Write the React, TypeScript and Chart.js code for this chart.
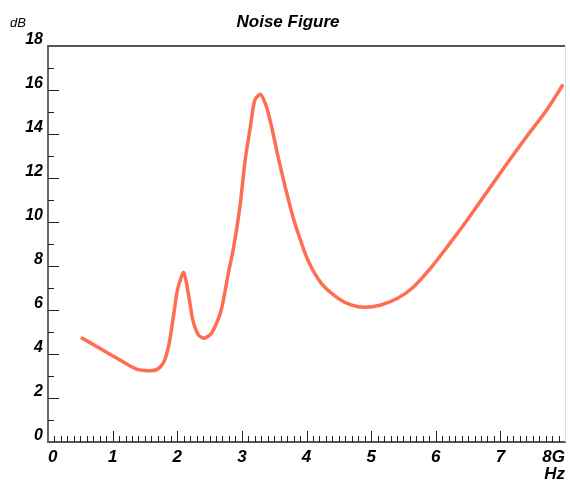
import React, { useEffect, useRef } from "react";
import { Chart, registerables } from "chart.js";

Chart.register(...registerables);

const chartTitle = "Noise Figure";
const yUnit = "dB";
const xUnit = "Hz";
const xTickLabels = ["0", "1", "2", "3", "4", "5", "6", "7", "8G"];

const frequency = [
  0.51, 0.8, 1.1, 1.36, 1.56, 1.69, 1.79, 1.87, 1.93, 1.97, 2.01, 2.1, 2.18,
  2.24, 2.33, 2.42, 2.53, 2.68, 2.79, 2.87, 2.97, 3.05, 3.13, 3.2, 3.29, 3.38,
  3.46, 3.56, 3.67, 3.79, 3.87, 4.02, 4.23, 4.49, 4.69, 4.9, 5.15, 5.41, 5.66,
  5.92, 6.18, 6.49, 6.79, 7.1, 7.41, 7.72, 7.97,
];
const noiseFigure = [
  4.75, 4.26, 3.75, 3.32, 3.24, 3.3, 3.62, 4.4, 5.5, 6.3, 7.0, 7.7, 6.6, 5.55,
  4.86, 4.72, 4.94, 6.0, 7.67, 8.8, 10.7, 12.8, 14.3, 15.55, 15.8, 15.24,
  14.33, 12.97, 11.6, 10.24, 9.49, 8.27, 7.21, 6.53, 6.23, 6.12, 6.23, 6.53,
  7.06, 7.9, 8.88, 10.1, 11.35, 12.65, 13.9, 15.1, 16.25,
];

const FONT = '"Liberation Sans", Arial, sans-serif';

const framePlugin = {
  id: "frame",
  beforeDatasetsDraw(chart: any) {
    const { ctx, chartArea } = chart;
    const xs = chart.scales.x;
    const ys = chart.scales.y;
    ctx.save();
    ctx.strokeStyle = "#555";
    ctx.lineWidth = 2;
    ctx.beginPath();
    ctx.moveTo(chartArea.left, chartArea.top);
    ctx.lineTo(chartArea.right, chartArea.top);
    ctx.stroke();
    ctx.strokeStyle = "#ddd";
    ctx.lineWidth = 1;
    ctx.beginPath();
    ctx.moveTo(chartArea.right + 0.5, chartArea.top);
    ctx.lineTo(chartArea.right + 0.5, chartArea.bottom);
    ctx.stroke();
    ctx.strokeStyle = "#222";
    ctx.lineWidth = 1;
    ctx.beginPath();
    for (let v = 1; v <= 17; v++) {
      const py = Math.round(ys.getPixelForValue(v)) + 0.5;
      const len = v % 2 === 0 ? 11 : 6;
      ctx.moveTo(chartArea.left, py);
      ctx.lineTo(chartArea.left + len, py);
    }
    for (let i = 1; i < 80; i++) {
      const px = Math.round(xs.getPixelForValue(i / 10)) + 0.5;
      const len = i % 10 === 0 ? 11 : 6;
      ctx.moveTo(px, chartArea.bottom);
      ctx.lineTo(px, chartArea.bottom - len);
    }
    ctx.stroke();
    ctx.restore();
  },
  afterDraw(chart: any) {
    const { ctx } = chart;
    ctx.save();
    ctx.fillStyle = "#000";
    ctx.textAlign = "center";
    ctx.textBaseline = "alphabetic";
    ctx.font = `italic bold 17px ${FONT}`;
    ctx.fillText(chartTitle, 288, 27);
    ctx.textAlign = "left";
    ctx.font = `italic 13px ${FONT}`;
    ctx.fillText(yUnit, 10, 27);
    ctx.restore();
  },
};

export default function App() {
  const ref = useRef<HTMLCanvasElement | null>(null);
  useEffect(() => {
    document.body.style.margin = "0";
    const canvas = ref.current;
    if (!canvas) return;
    const chart = new Chart(canvas, {
      type: "line",
      data: {
        datasets: [
          {
            label: chartTitle,
            data: frequency.map((f, i) => ({ x: f, y: noiseFigure[i] })),
            borderColor: "rgb(255,110,80)",
            borderWidth: 3.5,
            pointRadius: 0,
            tension: 0.25,
            fill: false,
          },
        ],
      },
      options: {
        animation: false,
        responsive: false,
        devicePixelRatio: 1,
        layout: { padding: { left: 8, right: 2, top: 46, bottom: 0 } },
        plugins: {
          legend: { display: false },
          title: { display: false },
          tooltip: { enabled: false },
        },
        scales: {
          x: {
            type: "linear",
            min: 0,
            max: 8,
            grid: { display: false, drawTicks: false },
            border: { display: true, color: "#555", width: 2 },
            ticks: {
              stepSize: 1,
              align: "inner",
              padding: 5,
              color: "#000",
              maxRotation: 0,
              font: { family: FONT, size: 17, style: "italic", weight: "bold" },
              callback: (v: any) => xTickLabels[Math.round(Number(v))] ?? "",
            },
            title: {
              display: true,
              text: xUnit,
              align: "end",
              color: "#000",
              padding: { top: 0, bottom: -3 },
              font: { family: FONT, size: 17, style: "italic", weight: "bold" },
            },
            afterFit: (s: any) => {
              s.height = 40;
            },
          },
          y: {
            type: "linear",
            min: 0,
            max: 18,
            grid: { display: false, drawTicks: false },
            border: { display: true, color: "#666", width: 2 },
            ticks: {
              stepSize: 2,
              padding: 5,
              labelOffset: -6,
              color: "#000",
              font: { family: FONT, size: 16, style: "italic", weight: "bold" },
            },
            afterFit: (s: any) => {
              s.width = 40;
            },
          },
        },
      },
      plugins: [framePlugin],
    });
    return () => chart.destroy();
  }, []);
  return <canvas ref={ref} width={570} height={482} style={{ display: "block" }} />;
}
